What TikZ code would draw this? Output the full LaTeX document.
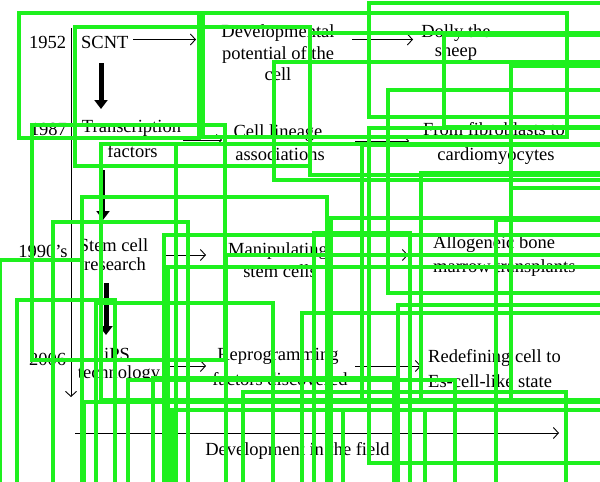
\documentclass[tikz,border=0pt]{standalone}
\usepackage{fontspec}
\setmainfont{Liberation Serif}
\usetikzlibrary{arrows.meta}
\definecolor{gr}{RGB}{30,240,30}
\begin{document}
\begin{tikzpicture}[x=1pt,y=-1pt,
  txt/.style={font=\fontsize{18.5}{22}\selectfont, inner sep=0pt, anchor=base},
  thinarrow/.style={line width=0.9pt, -{Straight Barb[length=5pt,width=11pt]}},
  fatarrow/.style={-{Triangle[length=9pt,width=13pt]}},
  gbox/.style={draw=gr, line width=3.2pt}]
\useasboundingbox (0,0) rectangle (600,482);
\fill[white] (0,0) rectangle (600,482);
% texts
\node[txt] (y1952) at (47.5,48) {1952};
\node[txt,anchor=base west] (scnt) at (81,48) {SCNT};
\node[txt] (dev1) at (278,37) {Developmental};
\node[txt] (dev2) at (278,59) {potential of the};
\node[txt] (dev3) at (278,80) {cell};
\node[txt] (dol1) at (456,37) {Dolly the};
\node[txt] (dol2) at (456,56) {sheep};
\node[txt] (y1987) at (48.5,135) {1987};
\node[txt] (tf1) at (131.5,132) {Transcription};
\node[txt] (tf2) at (132.5,157) {factors};
\node[txt] (cl1) at (278,137) {Cell lineage};
\node[txt] (cl2) at (280,160) {associations};
\node[txt] (ff1) at (494,135) {From fibroblasts to};
\node[txt] (ff2) at (496,160) {cardiomyocytes};
\node[txt] (y1990) at (43,257) {1990’s};
\node[txt] (sc1) at (113.5,251) {Stem cell};
\node[txt] (sc2) at (115,270) {research};
\node[txt] (ms1) at (278,255) {Manipulating};
\node[txt] (ms2) at (280,277) {stem cells};
\node[txt,anchor=base west] (ab1) at (433,248) {Allogeneic bone};
\node[txt,anchor=base west] (ab2) at (433,272) {marrow transplants};
\node[txt] (y2006) at (47.5,365) {2006};
\node[txt] (ip1) at (117,360) {iPS};
\node[txt] (ip2) at (119,378) {technology};
\node[txt] (rf1) at (278,360) {Reprogramming};
\node[txt] (rf2) at (280,385) {factors discovered};
\node[txt,anchor=base west] (rd1) at (428,362) {Redefining cell to};
\node[txt,anchor=base west] (rd2) at (428,387) {Es-cell-like state};
\node[txt] (devf) at (297.5,455) {Development in the field};
% arrow end points
\coordinate (t0) at (71,28);   \coordinate (t1) at (71,397);
\coordinate (a1s) at (133,39.5); \coordinate (a1e) at (196,39.5);
\coordinate (a2s) at (352,39.5); \coordinate (a2e) at (413,39.5);
\coordinate (a3s) at (183,140); \coordinate (a3e) at (222,140);
\coordinate (a4s) at (355,141); \coordinate (a4e) at (409,141);
\coordinate (a5s) at (162,255); \coordinate (a5e) at (206,255);
\coordinate (a6s) at (355,255); \coordinate (a6e) at (408,255);
\coordinate (a7s) at (168,366); \coordinate (a7e) at (206,366);
\coordinate (a8s) at (355,366); \coordinate (a8e) at (421,366);
\coordinate (hs) at (75,433);   \coordinate (he) at (559,433);
\coordinate (k1s) at (101,63);  \coordinate (k1e) at (101,109);
\coordinate (k2s) at (103,170); \coordinate (k2e) at (103,220);
\coordinate (k3s) at (106,283); \coordinate (k3e) at (106,335);
% arrows
\draw[thinarrow] (t0) -- (t1);
\draw[thinarrow] (a1s) -- (a1e);
\draw[thinarrow] (a2s) -- (a2e);
\draw[thinarrow] (a3s) -- (a3e);
\draw[thinarrow] (a4s) -- (a4e);
\draw[thinarrow] (a5s) -- (a5e);
\draw[thinarrow] (a6s) -- (a6e);
\draw[thinarrow] (a7s) -- (a7e);
\draw[thinarrow] (a8s) -- (a8e);
\draw[thinarrow] (hs) -- (he);
\draw[fatarrow, line width=5pt] (k1s) -- (k1e);
\draw[fatarrow, line width=3pt] (k2s) -- (k2e);
\draw[fatarrow, line width=5pt] (k3s) -- (k3e);
% green overlay boxes
\begin{scope}
\clip (0,0) rectangle (600,482);
\foreach \a/\b/\c/\d in {19/13/199/138, 75/27/310/166, 203/13/567/137,
  369/3/605/117, 310/33/605/175, 444/35/605/127, 274/62/605/180,
  511/66/605/188, 388/90/605/293, 32/125/225/360, 101/144/605/400,
  176/144/605/490, 362/145/605/400, 369/128/605/463, 421/173/605/402,
  511/188/605/402, 82/197/327/490, 331/218/605/490, 496/220/605/490,
  53/222/188/490, 314/233/410/490, 164/235/605/490, 226/255/605/490,
  0/260/82/490, 168/267/605/490, 17/300/115/490, 96/303/273/490,
  398/305/605/490, 302/313/605/490, 153/378/394/490, 128/380/455/490,
  243/392/566/490, 84/402/605/490, 172/410/425/490, 343/410/605/490}
  \draw[gbox] (\a,\b) rectangle (\c,\d);
\end{scope}
\end{tikzpicture}
\end{document}
